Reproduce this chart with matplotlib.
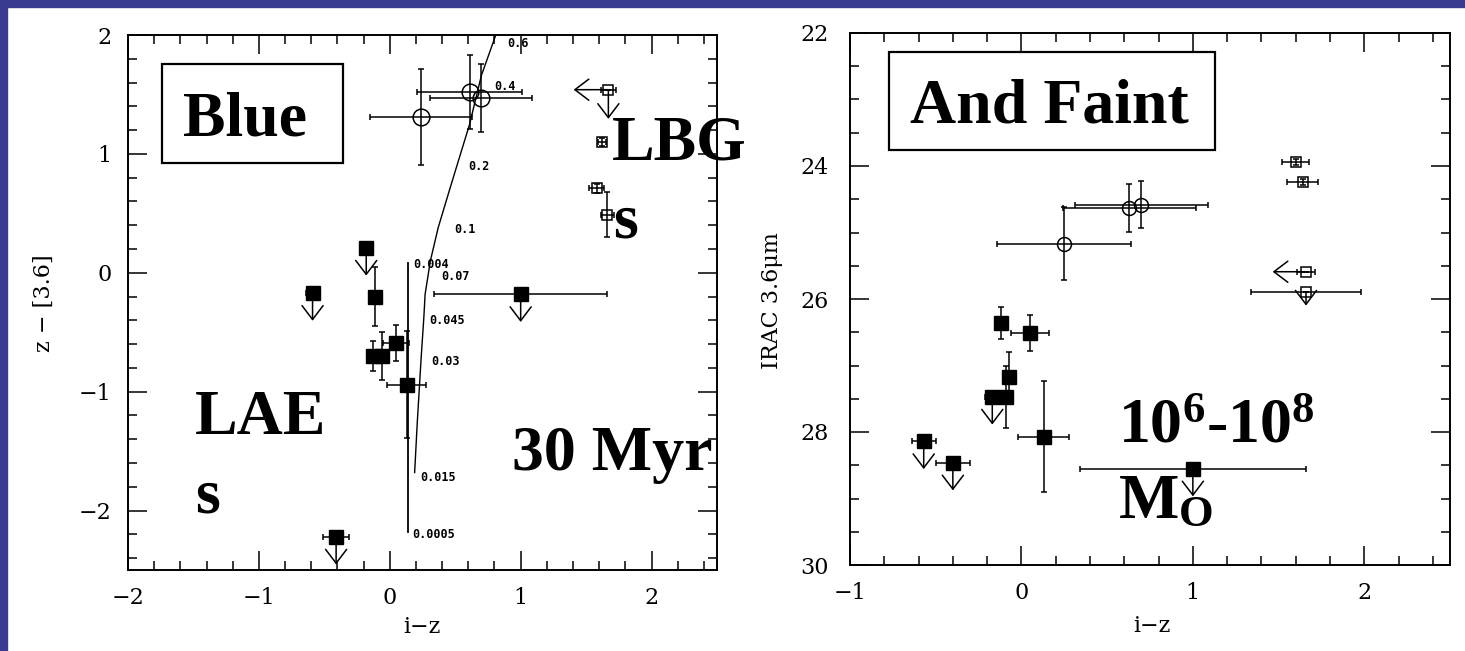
import numpy as np
import matplotlib
matplotlib.use("Agg")
import matplotlib.pyplot as plt
from matplotlib.patches import Rectangle
from matplotlib.ticker import MultipleLocator
from matplotlib.transforms import offset_copy

plt.rcParams['mathtext.fontset'] = 'custom'
plt.rcParams['mathtext.rm'] = 'Liberation Serif:bold'
plt.rcParams['mathtext.bf'] = 'Liberation Serif:bold'
plt.rcParams['mathtext.it'] = 'Liberation Serif:bold'

# ---------------- colour-colour panel: z-[3.6] vs i-z ----------------
# Lyman-alpha emitters (filled squares)
lae_iz = [-0.59, -0.18, -0.11, -0.13, -0.06, 0.05, 0.13, 1.00, -0.41]
lae_zc = [-0.17, 0.21, -0.20, -0.70, -0.70, -0.59, -0.94, -0.18, -2.22]
lae_iz_err = [0.05, 0.05, 0.0, 0.0, 0.0, 0.10, 0.15, 0.66, 0.10]
lae_zc_err = [0.0, 0.0, 0.25, 0.13, 0.20, 0.15, 0.45, 0.0, 0.0]
lae_zc_upper = [True, True, False, False, False, False, False, True, True]

# open circles
circ_iz = [0.24, 0.61, 0.70]
circ_zc = [1.31, 1.52, 1.47]
circ_iz_err = [0.39, 0.40, 0.39]
circ_zc_err = [0.40, 0.31, 0.29]

# Lyman-break galaxies (open squares)
lbg_iz = [1.67, 1.62, 1.58, 1.66]
lbg_zc = [1.54, 1.10, 0.71, 0.49]
lbg_iz_err = [0.06, 0.03, 0.06, 0.05]
lbg_zc_err = [0.0, 0.03, 0.04, 0.19]
lbg_zc_upper = [True, False, False, False]
lbg_iz_upper = [True, False, False, False]

# population-synthesis tracks (ages in Gyr)
track_iz = [0.84, 0.81, 0.70, 0.61, 0.46, 0.37, 0.31, 0.27, 0.26, 0.24, 0.21, 0.19]
track_zc = [2.20, 2.00, 1.66, 1.25, 0.71, 0.38, 0.10, -0.18, -0.38, -0.71, -1.26, -1.68]
track2_iz = [0.14, 0.14]
track2_zc = [0.08, -2.18]
age_labels = ["0.6", "0.4", "0.2", "0.1", "0.07", "0.045", "0.03", "0.015", "0.004", "0.0005"]
age_iz = [0.90, 0.80, 0.60, 0.49, 0.39, 0.30, 0.32, 0.23, 0.18, 0.17]
age_zc = [1.93, 1.57, 0.89, 0.36, -0.03, -0.40, -0.75, -1.72, 0.07, -2.20]

# ---------------- magnitude panel: IRAC 3.6um vs i-z ----------------
lae_iz_r = [-0.12, 0.05, -0.07, -0.17, -0.09, 0.13, -0.57, -0.40, 1.00]
lae_irac = [26.36, 26.51, 27.17, 27.47, 27.47, 28.07, 28.14, 28.46, 28.55]
lae_iz_r_err = [0.0, 0.11, 0.0, 0.04, 0.0, 0.15, 0.07, 0.10, 0.66]
lae_irac_err = [0.24, 0.27, 0.37, 0.0, 0.47, 0.83, 0.0, 0.0, 0.0]
lae_irac_upper = [False, False, False, True, False, False, True, True, True]

circ_iz_r = [0.25, 0.63, 0.70]
circ_irac = [25.17, 24.63, 24.58]
circ_iz_r_err = [0.39, 0.39, 0.39]
circ_irac_err = [0.55, 0.36, 0.35]

lbg_iz_r = [1.60, 1.64, 1.66, 1.66]
lbg_irac = [23.94, 24.24, 25.59, 25.89]
lbg_iz_r_err = [0.08, 0.09, 0.05, 0.32]
lbg_irac_err = [0.05, 0.05, 0.0, 0.0]
lbg_iz_r_upper = [False, False, True, False]
lbg_irac_upper = [False, False, False, True]

BORDER = '#393b90'
TICK_FONT = dict(family='DejaVu Serif', size=16)
BIG_FONT = dict(family='Liberation Serif', weight='bold', size=46)

fig = plt.figure(figsize=(14.65, 6.51), dpi=100)
fig.patch.set_facecolor('white')
fig.patches.append(Rectangle((0, 1 - 7 / 651), 1, 7 / 651, transform=fig.transFigure,
                             color=BORDER, zorder=0))
fig.patches.append(Rectangle((0, 0), 7 / 1465, 1, transform=fig.transFigure,
                             color=BORDER, zorder=0))

ax1 = fig.add_axes([128 / 1465, 81 / 651, 589 / 1465, 535 / 651])
ax2 = fig.add_axes([850 / 1465, 86 / 651, 600 / 1465, 532 / 651])


def style_axes(ax, xminor, yminor):
    for s in ax.spines.values():
        s.set_linewidth(1.4)
    ax.xaxis.set_minor_locator(MultipleLocator(xminor))
    ax.yaxis.set_minor_locator(MultipleLocator(yminor))
    ax.tick_params(which='both', direction='in', top=True, right=True, width=1.1)
    ax.tick_params(which='major', length=13.5, pad=12)
    ax.tick_params(which='minor', length=6.5)
    for lab in ax.get_xticklabels() + ax.get_yticklabels():
        lab.set_fontfamily(TICK_FONT['family'])
        lab.set_fontsize(TICK_FONT['size'])


def limit_arrows(ax, xs, ys, flags, dx=0, dy=0):
    tr = offset_copy(ax.transData, fig=fig, x=dx, y=dy, units='points')
    for x, y, f in zip(xs, ys, flags):
        if f:
            ax.annotate('', xy=(x, y), xycoords=tr, xytext=(x, y), textcoords='data',
                        arrowprops=dict(arrowstyle='->,head_length=0.5,head_width=0.38',
                                        lw=1.1, color='k', shrinkA=0, shrinkB=0,
                                        mutation_scale=20))


eb = dict(ecolor='k', elinewidth=1.1, capsize=2.5, capthick=1.1, ls='none')

# ---- left panel ----
ax1.plot(track_iz, track_zc, color='k', lw=1.0)
ax1.plot(track2_iz, track2_zc, color='k', lw=1.3)
for t, x, y in zip(age_labels, age_iz, age_zc):
    ax1.text(x, y, t, fontsize=8.5, fontweight='bold', family='DejaVu Sans Mono',
             ha='left', va='center')

ax1.errorbar(lae_iz, lae_zc, xerr=lae_iz_err, yerr=lae_zc_err, fmt='s', ms=10.5,
             mfc='k', mec='k', **eb)
ax1.errorbar(circ_iz, circ_zc, xerr=circ_iz_err, yerr=circ_zc_err, fmt='o', ms=12,
             mfc='none', mec='k', mew=1.1, **eb)
ax1.errorbar(lbg_iz, lbg_zc, xerr=lbg_iz_err, yerr=lbg_zc_err, fmt='s', ms=7,
             mfc='none', mec='k', mew=1.1, **eb)
limit_arrows(ax1, lae_iz, lae_zc, lae_zc_upper, dy=-20)
limit_arrows(ax1, lbg_iz, lbg_zc, lbg_zc_upper, dy=-21)
limit_arrows(ax1, lbg_iz, lbg_zc, lbg_iz_upper, dx=-25)

ax1.set_xlim(-2, 2.5)
ax1.set_ylim(-2.5, 2)
ax1.set_xticks([-2, -1, 0, 1, 2])
ax1.set_yticks([-2, -1, 0, 1, 2])
style_axes(ax1, 0.2, 0.2)
ax1.set_xlabel('i\u2212z', fontsize=16, family='DejaVu Serif')
ax1.set_ylabel('z \u2212 [3.6]', fontsize=16, family='DejaVu Serif')
ax1.xaxis.set_label_coords(0.499, -0.1065)
ax1.xaxis.label.set_va('center')
ax1.yaxis.set_label_coords(-0.1426, 0.499)
ax1.yaxis.label.set_va('center')

ax1.add_patch(Rectangle((0.0577, 0.7607), 0.3073, 0.1851, transform=ax1.transAxes,
                        fill=False, lw=1.6, ec='k', zorder=5))
ax1.text(0.1986, 0.813, 'Blue', transform=ax1.transAxes, ha='center', va='baseline', **BIG_FONT)
ax1.text(0.8217, 0.7664, 'LBG', transform=ax1.transAxes, ha='left', va='baseline', **BIG_FONT)
ax1.text(0.8234, 0.6224, 's', transform=ax1.transAxes, ha='left', va='baseline', **BIG_FONT)
ax1.text(0.1138, 0.2542, 'LAE', transform=ax1.transAxes, ha='left', va='baseline', **BIG_FONT)
ax1.text(0.1138, 0.1084, 's', transform=ax1.transAxes, ha='left', va='baseline', **BIG_FONT)
ax1.text(0.652, 0.1869, '30 Myr', transform=ax1.transAxes, ha='left', va='baseline', **BIG_FONT)

# ---- right panel ----
ax2.errorbar(lae_iz_r, lae_irac, xerr=lae_iz_r_err, yerr=lae_irac_err, fmt='s', ms=9.5,
             mfc='k', mec='k', **eb)
ax2.errorbar(circ_iz_r, circ_irac, xerr=circ_iz_r_err, yerr=circ_irac_err, fmt='o', ms=10,
             mfc='none', mec='k', mew=1.1, **eb)
ax2.errorbar(lbg_iz_r, lbg_irac, xerr=lbg_iz_r_err, yerr=lbg_irac_err, fmt='s', ms=7,
             mfc='none', mec='k', mew=1.1, **eb)
limit_arrows(ax2, lae_iz_r, lae_irac, lae_irac_upper, dy=-20)
limit_arrows(ax2, lbg_iz_r, lbg_irac, lbg_irac_upper, dy=-10)
limit_arrows(ax2, lbg_iz_r, lbg_irac, lbg_iz_r_upper, dx=-24)

ax2.set_xlim(-1, 2.5)
ax2.set_ylim(30, 22)
ax2.set_xticks([-1, 0, 1, 2])
ax2.set_yticks([22, 24, 26, 28, 30])
style_axes(ax2, 0.2, 0.5)
ax2.tick_params(axis='y', which='major', pad=15)
ax2.set_xlabel('i\u2212z', fontsize=16, family='DejaVu Serif')
ax2.set_ylabel('IRAC 3.6\u03bcm', fontsize=16, family='DejaVu Serif')
ax2.xaxis.set_label_coords(0.503, -0.1147)
ax2.xaxis.label.set_va('center')
ax2.yaxis.set_label_coords(-0.13, 0.498)
ax2.yaxis.label.set_va('center')

ax2.add_patch(Rectangle((0.065, 0.7801), 0.543, 0.1842, transform=ax2.transAxes,
                        fill=False, lw=1.6, ec='k', zorder=5))
ax2.text(0.332, 0.8327, 'And Faint', transform=ax2.transAxes, ha='center', va='baseline',
         **BIG_FONT)
ax2.text(0.4467, 0.2312, r'$10^{6}$-$10^{8}$', transform=ax2.transAxes, ha='left',
         va='baseline', **BIG_FONT)
ax2.text(0.4467, 0.0883, r'$M_{O}$', transform=ax2.transAxes, ha='left', va='baseline',
         **BIG_FONT)

fig.savefig('out.png', dpi=100)
